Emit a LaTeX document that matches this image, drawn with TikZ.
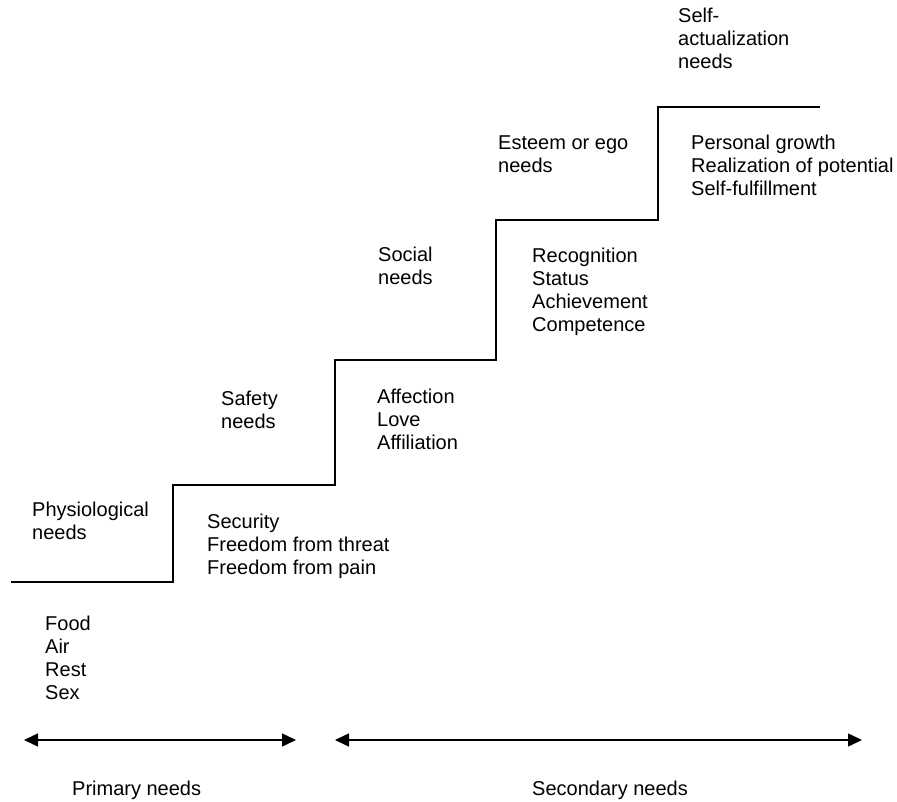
\documentclass[tikz,border=0pt]{standalone}
\usepackage{fontspec}
\setmainfont{Liberation Sans}
\usetikzlibrary{arrows.meta}

\begin{document}
\begin{tikzpicture}[x=1pt, y=-1pt,
  lbl/.style={anchor=base west, inner sep=0pt, align=left, font=\fontsize{20}{23}\selectfont},
  stair/.style={line width=2pt, black},
  span/.style={{Triangle[length=14pt, width=13pt]}-{Triangle[length=14pt, width=13pt]}, line width=1.5pt}
]
  \useasboundingbox (0,0) rectangle (897,802);

  % the stairs
  \draw[stair] (11,582) -| (173,485) -| (335,360) -| (496,220) -| (658,107) -- (820,107);

  % need levels and their examples (placed by last baseline)
  \node[lbl] (phys) at (32,539) {Physiological\\needs};
  \node[lbl] (food) at (45,699) {Food\\Air\\Rest\\Sex};
  \node[lbl] (safety) at (221,428) {Safety\\needs};
  \node[lbl] (secur) at (207,574) {Security\\Freedom from threat\\Freedom from pain};
  \node[lbl] (social) at (378,285) {Social\\needs};
  \node[lbl] (affect) at (377,449) {Affection\\Love\\Affiliation};
  \node[lbl] (esteem) at (498,173) {Esteem or ego\\needs};
  \node[lbl] (recog) at (532,331) {Recognition\\Status\\Achievement\\Competence};
  \node[lbl] (self) at (678,69) {Self-\\actualization\\needs};
  \node[lbl] (growth) at (691,196) {Personal growth\\Realization of potential\\Self-fulfillment};

  % primary / secondary spans
  \coordinate (primL) at (24,740);
  \coordinate (primR) at (296,740);
  \coordinate (secL) at (335,740);
  \coordinate (secR) at (862,740);
  \draw[span] (primL) -- (primR);
  \draw[span] (secL) -- (secR);
  \node[lbl] (prim) at (72,795) {Primary needs};
  \node[lbl] (sec) at (532,795) {Secondary needs};
\end{tikzpicture}
\end{document}
